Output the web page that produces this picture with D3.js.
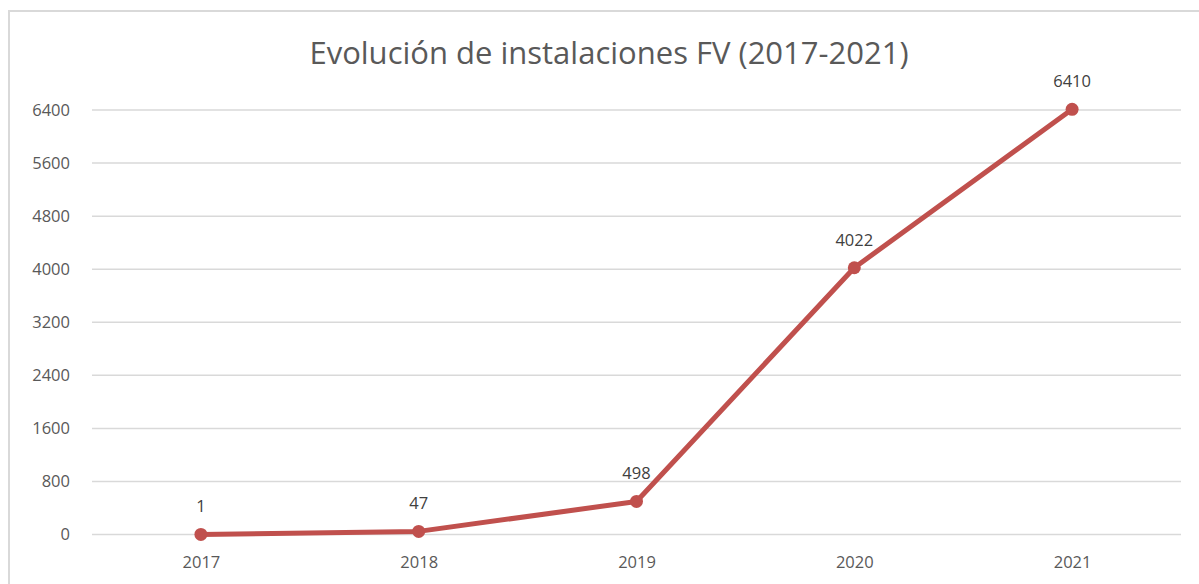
<!DOCTYPE html>
<html>
<head>
<meta charset="utf-8">
<script src="https://cdn.jsdelivr.net/npm/d3@7"></script>
<style>
  body { margin: 0; background: #fff; }
  svg, svg text { font-family: "Open Sans", "Noto Sans", sans-serif; }
</style>
</head>
<body>
<svg id="chart" width="1199" height="584"></svg>
<script>
const years = ["2017", "2018", "2019", "2020", "2021"];
const installs = [1, 47, 498, 4022, 6410];
const yTicks = [0, 800, 1600, 2400, 3200, 4000, 4800, 5600, 6400];
const title = "Evolución de instalaciones FV (2017-2021)";

const svg = d3.select("#chart");

// chart border
svg.append("rect")
  .attr("x", 9).attr("y", 11)
  .attr("width", 1300).attr("height", 700)
  .attr("fill", "none")
  .attr("stroke", "#d9d9d9")
  .attr("stroke-width", 2);

const margin = {top: 110, right: 18, bottom: 50, left: 92};
const width = 1199 - margin.left - margin.right;
const height = 534.5 - margin.top;

const g = svg.append("g")
  .attr("transform", "translate(" + margin.left + "," + margin.top + ")");

const x = d3.scalePoint().domain(years).range([0, width]).padding(0.5);
const y = d3.scaleLinear().domain([0, 6400]).range([height, 0]);

// gridlines
g.selectAll(".grid")
  .data(yTicks)
  .enter().append("line")
  .attr("x1", 0).attr("x2", width)
  .attr("y1", d => y(d)).attr("y2", d => y(d))
  .attr("stroke", "#d9d9d9")
  .attr("stroke-width", 1.5);

// y axis labels
const yAxis = d3.axisLeft(y).tickValues(yTicks).tickFormat(d3.format("d"))
  .tickSize(0).tickPadding(22);
g.append("g").call(yAxis)
  .attr("font-family", null)
  .attr("font-size", null)
  .call(a => a.select(".domain").remove())
  .selectAll("text")
  .attr("fill", "#595959")
  .style("font-size", "16.5px");

// x axis labels
const xAxis = d3.axisBottom(x).tickSize(0).tickPadding(22);
g.append("g")
  .attr("transform", "translate(0," + height + ")")
  .call(xAxis)
  .attr("font-family", null)
  .attr("font-size", null)
  .call(a => a.select(".domain").remove())
  .selectAll("text")
  .attr("fill", "#595959")
  .style("font-size", "16.5px");

const data = years.map((d, i) => ({year: d, value: installs[i]}));

const line = d3.line().x(d => x(d.year)).y(d => y(d.value));

g.append("path")
  .datum(data)
  .attr("d", line)
  .attr("fill", "none")
  .attr("stroke", "#c0504d")
  .attr("stroke-width", 5)
  .attr("stroke-linejoin", "round");

g.selectAll(".dot")
  .data(data)
  .enter().append("circle")
  .attr("cx", d => x(d.year))
  .attr("cy", d => y(d.value))
  .attr("r", 6.5)
  .attr("fill", "#c0504d");

g.selectAll(".lbl")
  .data(data)
  .enter().append("text")
  .attr("x", d => x(d.year))
  .attr("y", d => y(d.value) - 22)
  .attr("text-anchor", "middle")
  .attr("fill", "#404040")
  .style("font-size", "16.5px")
  .text(d => d.value);

svg.append("text")
  .attr("x", 609)
  .attr("y", 64)
  .attr("text-anchor", "middle")
  .attr("fill", "#595959")
  .style("font-size", "31px")
  .text(title);
</script>
</body>
</html>
